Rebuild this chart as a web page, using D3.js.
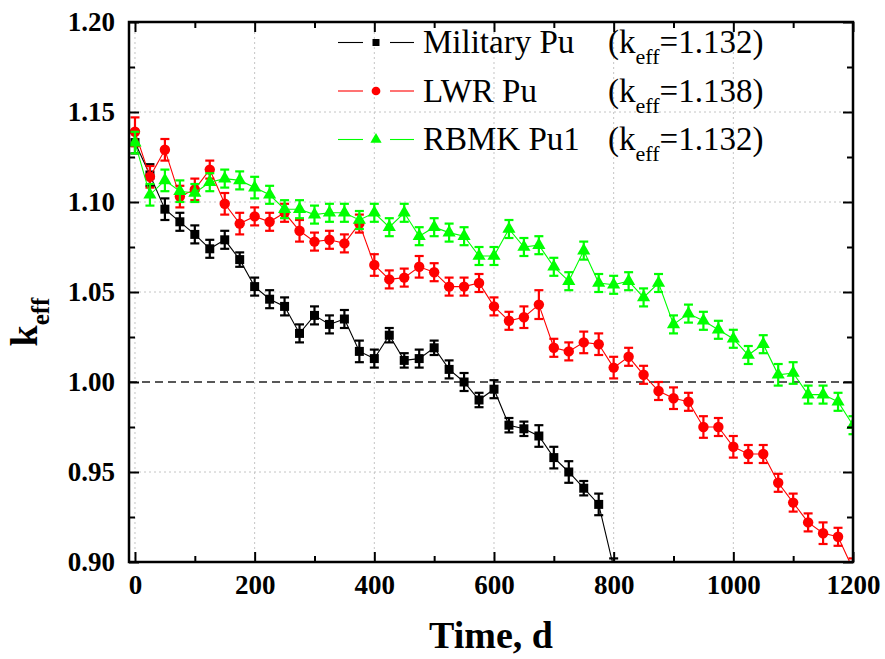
<!DOCTYPE html>
<html>
<head>
<meta charset="utf-8">
<script src="https://cdn.jsdelivr.net/npm/d3@7"></script>
<style>
  html, body { margin: 0; padding: 0; background: #fff; }
  svg { display: block; }
  text { font-family: "Liberation Serif", "Times New Roman", serif; }
</style>
</head>
<body>
<svg id="chart" width="885" height="659"></svg>
<script>
// Burn-up time in days (every 25 d)
const timeMilitary = [0, 25, 50, 75, 100, 125, 150, 175, 200, 225, 250, 275, 300, 325, 350, 375, 400,
  425, 450, 475, 500, 525, 550, 575, 600, 625, 650, 675, 700, 725, 750, 775, 800];
const timeFull = [0, 25, 50, 75, 100, 125, 150, 175, 200, 225, 250, 275, 300, 325, 350, 375, 400,
  425, 450, 475, 500, 525, 550, 575, 600, 625, 650, 675, 700, 725, 750, 775, 800,
  825, 850, 875, 900, 925, 950, 975, 1000, 1025, 1050, 1075, 1100, 1125, 1150, 1175, 1200];

// k_eff and its statistical error for each fuel
const keffMilitary = [1.133, 1.115, 1.096, 1.089, 1.082, 1.074, 1.079, 1.068, 1.053, 1.046, 1.042, 1.027,
  1.037, 1.032, 1.035, 1.017, 1.013, 1.026, 1.012, 1.013, 1.019, 1.007, 1.000, 0.990, 0.996, 0.976,
  0.974, 0.970, 0.958, 0.950, 0.941, 0.932, 0.897];
const errMilitary = [0.006, 0.006, 0.006, 0.005, 0.005, 0.005, 0.005, 0.004, 0.005, 0.005, 0.005, 0.005,
  0.005, 0.005, 0.005, 0.006, 0.005, 0.004, 0.004, 0.005, 0.004, 0.005, 0.005, 0.004, 0.005, 0.004,
  0.004, 0.006, 0.006, 0.006, 0.004, 0.006, 0.005];

const keffLWR = [1.139, 1.114, 1.129, 1.103, 1.107, 1.118, 1.099, 1.088, 1.092, 1.089, 1.094, 1.084,
  1.078, 1.079, 1.077, 1.088, 1.065, 1.057, 1.058, 1.064, 1.061, 1.053, 1.053, 1.055, 1.042, 1.034,
  1.036, 1.043, 1.019, 1.017, 1.022, 1.021, 1.008, 1.014, 1.004, 0.995, 0.991, 0.989, 0.975, 0.975,
  0.964, 0.960, 0.960, 0.944, 0.933, 0.922, 0.916, 0.914, 0.896];
const errLWR = [0.008, 0.006, 0.006, 0.006, 0.006, 0.005, 0.006, 0.006, 0.005, 0.005, 0.005, 0.006,
  0.005, 0.005, 0.005, 0.005, 0.006, 0.005, 0.005, 0.006, 0.005, 0.005, 0.005, 0.005, 0.005, 0.005,
  0.006, 0.008, 0.005, 0.005, 0.006, 0.006, 0.006, 0.005, 0.005, 0.005, 0.006, 0.005, 0.006, 0.005,
  0.006, 0.005, 0.005, 0.005, 0.005, 0.005, 0.006, 0.005, 0.006];

const keffRBMK = [1.133, 1.104, 1.112, 1.106, 1.105, 1.111, 1.113, 1.112, 1.108, 1.104, 1.096, 1.096,
  1.093, 1.094, 1.094, 1.090, 1.094, 1.086, 1.094, 1.081, 1.086, 1.083, 1.081, 1.070, 1.070, 1.085,
  1.075, 1.076, 1.064, 1.056, 1.073, 1.055, 1.054, 1.056, 1.047, 1.055, 1.032, 1.038, 1.034, 1.029,
  1.024, 1.015, 1.021, 1.004, 1.005, 0.993, 0.993, 0.989, 0.976];
const errRBMK = [0.006, 0.006, 0.006, 0.006, 0.005, 0.005, 0.005, 0.005, 0.006, 0.005, 0.005, 0.005,
  0.005, 0.005, 0.005, 0.005, 0.005, 0.005, 0.005, 0.005, 0.005, 0.005, 0.005, 0.005, 0.005, 0.005,
  0.005, 0.005, 0.005, 0.005, 0.005, 0.005, 0.005, 0.005, 0.005, 0.005, 0.005, 0.005, 0.005, 0.005,
  0.005, 0.005, 0.005, 0.006, 0.006, 0.005, 0.005, 0.005, 0.005];

const seriesNames = ["Military Pu", "LWR Pu", "RBMK Pu1"];
const seriesKeff0 = ["1.132", "1.138", "1.132"];
const seriesColors = ["#000000", "#ff0000", "#00ff00"];
const seriesShapes = [d3.symbolSquare, d3.symbolCircle, d3.symbolTriangle];

const xMajorTicks = [0, 200, 400, 600, 800, 1000, 1200];
const xMinorTicks = [100, 300, 500, 700, 900, 1100];
const yMajorTicks = [0.90, 0.95, 1.00, 1.05, 1.10, 1.15, 1.20];
const yMinorTicks = [0.925, 0.975, 1.025, 1.075, 1.125, 1.175];
const criticalLevel = 1.00;

const serifStack = '"Liberation Serif", "Times New Roman", serif';

const series = [
  { t: timeMilitary, v: keffMilitary, e: errMilitary },
  { t: timeFull, v: keffLWR, e: errLWR },
  { t: timeFull, v: keffRBMK, e: errRBMK }
].map((s, i) => ({
  name: seriesNames[i], keff0: seriesKeff0[i], color: seriesColors[i], shape: seriesShapes[i],
  points: s.t.map((t, j) => ({ t, v: s.v[j], e: s.e[j] }))
}));

const svg = d3.select("#chart");
const L = 129, R = 853, T = 22, B = 562;
const x = d3.scaleLinear().domain([-10, 1200]).range([L, R]);
const y = d3.scaleLinear().domain([0.90, 1.20]).range([B, T]);

svg.append("rect").attr("width", 885).attr("height", 659).attr("fill", "#fff");

svg.append("defs").append("clipPath").attr("id", "plotClip")
  .append("rect").attr("x", L).attr("y", T).attr("width", R - L).attr("height", B - T);

// Dotted grid at major ticks
const grid = svg.append("g").attr("stroke", "#c4c4c4").attr("stroke-width", 1)
  .attr("stroke-dasharray", "2,3");
grid.selectAll("line.gx").data(xMajorTicks).join("line")
  .attr("x1", d => x(d)).attr("x2", d => x(d)).attr("y1", T).attr("y2", B);
grid.selectAll("line.gy").data(yMajorTicks.filter(d => d !== criticalLevel)).join("line")
  .attr("y1", d => y(d)).attr("y2", d => y(d)).attr("x1", L).attr("x2", R);

// k_eff = 1 reference line
svg.append("line")
  .attr("x1", L).attr("x2", R).attr("y1", y(criticalLevel)).attr("y2", y(criticalLevel))
  .attr("stroke", "#222").attr("stroke-width", 1.6).attr("stroke-dasharray", "8,5");

// Data
const plot = svg.append("g").attr("clip-path", "url(#plotClip)");
const line = d3.line().x(d => x(d.t)).y(d => y(d.v));
const capW = 4.5;
series.forEach(s => {
  const g = plot.append("g");
  g.append("path").datum(s.points).attr("d", line)
    .attr("fill", "none").attr("stroke", s.color).attr("stroke-width", 1.1);
  const eb = g.append("g").attr("stroke", s.color).attr("stroke-width", 2.2);
  eb.selectAll("line.v").data(s.points).join("line")
    .attr("x1", d => x(d.t)).attr("x2", d => x(d.t))
    .attr("y1", d => y(d.v - d.e)).attr("y2", d => y(d.v + d.e));
  eb.selectAll("line.top").data(s.points).join("line")
    .attr("x1", d => x(d.t) - capW).attr("x2", d => x(d.t) + capW)
    .attr("y1", d => y(d.v + d.e)).attr("y2", d => y(d.v + d.e));
  eb.selectAll("line.bot").data(s.points).join("line")
    .attr("x1", d => x(d.t) - capW).attr("x2", d => x(d.t) + capW)
    .attr("y1", d => y(d.v - d.e)).attr("y2", d => y(d.v - d.e));
  const size = s.shape === d3.symbolSquare ? 81 : s.shape === d3.symbolCircle ? 85 : 75;
  g.selectAll("path.m").data(s.points).join("path")
    .attr("d", d3.symbol().type(s.shape).size(size))
    .attr("transform", d => `translate(${x(d.t)},${y(d.v)})`)
    .attr("fill", s.color);
});

// Axes with inward ticks on all four sides
const tickFont = g => {
  g.attr("font-family", null);
  g.selectAll("text")
    .style("font-family", serifStack)
    .style("font-size", "27px").style("font-weight", "bold").attr("fill", "#000");
};
const clean = g => { g.select(".domain").remove(); g.selectAll("line").attr("stroke", "#000").attr("stroke-width", 2); };

svg.append("g").attr("transform", `translate(0,${B})`)
  .call(d3.axisBottom(x).tickValues(xMajorTicks).tickFormat(d3.format("d")).tickSize(-10).tickPadding(13))
  .call(clean).call(tickFont);
svg.append("g").attr("transform", `translate(0,${B})`)
  .call(d3.axisBottom(x).tickValues(xMinorTicks).tickFormat("").tickSize(-6)).call(clean);
svg.append("g").attr("transform", `translate(0,${T})`)
  .call(d3.axisTop(x).tickValues(xMajorTicks).tickFormat("").tickSize(-10)).call(clean);
svg.append("g").attr("transform", `translate(0,${T})`)
  .call(d3.axisTop(x).tickValues(xMinorTicks).tickFormat("").tickSize(-6)).call(clean);

svg.append("g").attr("transform", `translate(${L},0)`)
  .call(d3.axisLeft(y).tickValues(yMajorTicks).tickFormat(d3.format(".2f")).tickSize(-10).tickPadding(14))
  .call(clean).call(tickFont);
svg.append("g").attr("transform", `translate(${L},0)`)
  .call(d3.axisLeft(y).tickValues(yMinorTicks).tickFormat("").tickSize(-6)).call(clean);
svg.append("g").attr("transform", `translate(${R},0)`)
  .call(d3.axisRight(y).tickValues(yMajorTicks).tickFormat("").tickSize(-10)).call(clean);
svg.append("g").attr("transform", `translate(${R},0)`)
  .call(d3.axisRight(y).tickValues(yMinorTicks).tickFormat("").tickSize(-6)).call(clean);

// Frame
svg.append("rect").attr("x", L).attr("y", T).attr("width", R - L).attr("height", B - T)
  .attr("fill", "none").attr("stroke", "#000").attr("stroke-width", 2.5);

// Axis titles
svg.append("text").attr("x", (L + R) / 2).attr("y", 648).attr("text-anchor", "middle")
  .attr("font-size", 38).attr("font-weight", "bold").text("Time, d");

const yTitle = svg.append("text")
  .attr("transform", "translate(37,322) rotate(-90)")
  .attr("text-anchor", "middle").attr("font-weight", "bold");
yTitle.append("tspan").attr("font-size", 38).text("k");
yTitle.append("tspan").attr("font-size", 25).attr("dy", 12).text("eff");

// Legend
const legend = svg.append("g");
series.forEach((s, i) => {
  const base = 53 + i * 48.5;
  const my = base - 10.5;
  const lg = legend.append("g");
  lg.append("line").attr("x1", 338).attr("x2", 363).attr("y1", my).attr("y2", my)
    .attr("stroke", s.color).attr("stroke-width", 1.1);
  lg.append("line").attr("x1", 390).attr("x2", 414).attr("y1", my).attr("y2", my)
    .attr("stroke", s.color).attr("stroke-width", 1.1);
  const ls = s.shape === d3.symbolSquare ? 49 : s.shape === d3.symbolCircle ? 60 : 55;
  lg.append("path").attr("d", d3.symbol().type(s.shape).size(ls))
    .attr("transform", `translate(376,${my})`).attr("fill", s.color);
  lg.append("text").attr("x", 423).attr("y", base).attr("font-size", 33).text(s.name);
  const k = lg.append("text").attr("x", 608).attr("y", base).attr("font-size", 33);
  k.append("tspan").text("(k");
  k.append("tspan").attr("font-size", 22).attr("dy", 11).text("eff");
  k.append("tspan").attr("dy", -11).text("=" + s.keff0 + ")");
});
</script>
</body>
</html>
